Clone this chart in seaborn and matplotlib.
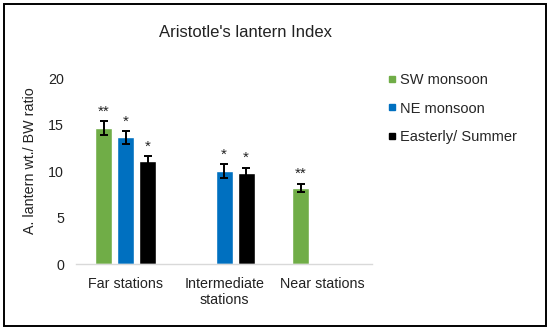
import pandas as pd
import numpy as np
import matplotlib
matplotlib.use('Agg')
import matplotlib.pyplot as plt
from matplotlib.lines import Line2D
from matplotlib.patches import Rectangle
import seaborn as sns

# Veriler
STATIONS = ['Far stations', 'Intermediate\nstations', 'Near stations']
SEASONS = ['SW monsoon', 'NE monsoon', 'Easterly/ Summer']

SW_VALUES = [14.65, None, 8.2]
NE_VALUES = [13.65, 10.0, None]
EAST_VALUES = [11.15, 9.8, None]

SW_ERR = [0.77, None, 0.48]
NE_ERR = [0.7, 0.77, None]
EAST_ERR = [0.5, 0.6, None]

SW_STARS = ['**', None, '**']
NE_STARS = ['*', '*', None]
EAST_STARS = ['*', '*', None]

COLORS = {
    'SW monsoon': '#70AD47',
    'NE monsoon': '#0070C0',
    'Easterly/ Summer': '#000000',
}


def build_frame():
    rows = []
    series = [
        (SEASONS[0], SW_VALUES, SW_ERR, SW_STARS),
        (SEASONS[1], NE_VALUES, NE_ERR, NE_STARS),
        (SEASONS[2], EAST_VALUES, EAST_ERR, EAST_STARS),
    ]
    for season, vals, errs, stars in series:
        for st, v, e, s in zip(STATIONS, vals, errs, stars):
            if v is None:
                continue
            rows.append({'Station': st, 'Season': season, 'Value': v,
                         'Err': e, 'Stars': s})
    return pd.DataFrame(rows)


def main():
    df = build_frame()

    sns.set_style('white')
    plt.rcParams['font.family'] = ['Liberation Sans', 'DejaVu Sans']

    fig = plt.figure(figsize=(5.5, 3.3), dpi=100)
    ax = fig.add_axes([0.139, 0.199, 0.537, 0.564])

    sns.barplot(data=df, x='Station', y='Value', hue='Season',
                order=STATIONS, hue_order=SEASONS, palette=COLORS,
                errorbar=None, width=0.67, gap=0.23, saturation=1,
                legend=False, ax=ax)

    # Hata çubukları ve yıldızlar
    for season, container in zip(SEASONS, ax.containers):
        sub = df[df['Season'] == season].reset_index(drop=True)
        for bar, (_, row) in zip(container, sub.iterrows()):
            xc = bar.get_x() + bar.get_width() / 2
            ax.errorbar(xc, row['Value'], yerr=row['Err'], fmt='none',
                        ecolor='black', elinewidth=1.4, capsize=2.6,
                        capthick=1.4)
            ax.text(xc, row['Value'] + row['Err'] + 0.25, row['Stars'],
                    ha='center', va='bottom', fontsize=11, color='#222222')

    ax.set_xlim(-0.5, 2.5)
    ax.set_ylim(0, 20)
    ax.set_yticks([0, 5, 10, 15, 20])
    ax.tick_params(axis='both', length=0, labelsize=10.3, colors='#222222')
    ax.tick_params(axis='y', pad=9)
    ax.tick_params(axis='x', pad=9)
    ax.set_xlabel('')
    ax.set_ylabel('A. lantern wt./ BW ratio', fontsize=10.3, color='#222222')
    ax.yaxis.set_label_coords(-0.134, 0.555)

    for side in ['top', 'right', 'left']:
        ax.spines[side].set_visible(False)
    ax.spines['bottom'].set_color('#D9D9D9')
    ax.spines['bottom'].set_linewidth(1)

    fig.text(0.447, 0.902, "Aristotle's lantern Index", ha='center',
             va='center', fontsize=12, color='#222222')

    handles = [Line2D([0], [0], marker='s', linestyle='none', markersize=5,
                      markerfacecolor=COLORS[s], markeredgecolor=COLORS[s])
               for s in SEASONS]
    fig.legend(handles, SEASONS, loc='upper left',
               bbox_to_anchor=(0.692, 0.8), frameon=False, fontsize=10.5,
               handlelength=0.5, handletextpad=0.3, labelspacing=0.98,
               borderpad=0)

    # Çerçeve
    fig.patches.append(Rectangle((0.008, 0.012), 0.984, 0.976,
                                 transform=fig.transFigure, fill=False,
                                 edgecolor='black', linewidth=1.4))

    fig.savefig('out.png', dpi=100)
    plt.close(fig)


if __name__ == '__main__':
    main()
